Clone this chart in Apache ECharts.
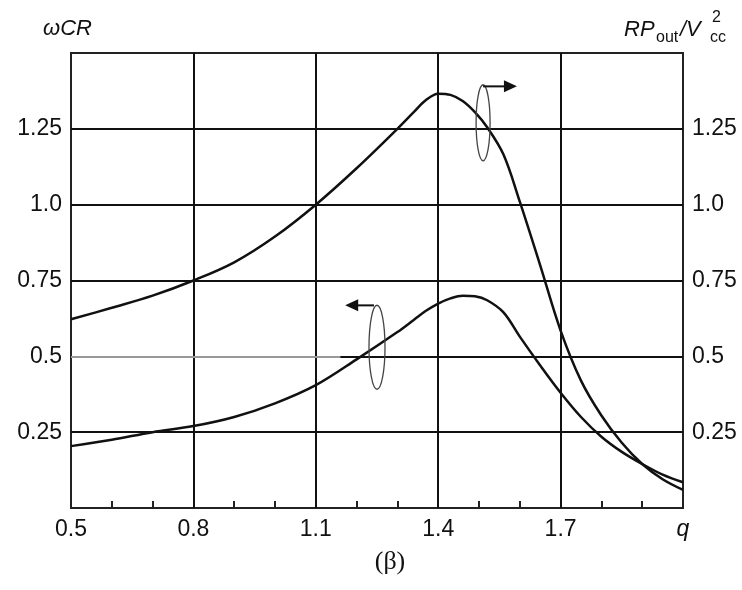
<!DOCTYPE html>
<html><head><meta charset="utf-8">
<script src="https://cdn.jsdelivr.net/npm/echarts@6/dist/echarts.min.js"></script>
<style>html,body{margin:0;padding:0;background:#fff}#c{width:742px;height:590px}</style>
</head><body><div id="c"></div>
<script>
// q values (x axis)
const qValues = [0.5,0.6,0.7,0.8,0.9,1.0,1.1,1.2,1.3,1.34,1.37,1.40,1.43,1.46,1.49,1.52,1.56,1.6,1.65,1.7,1.75,1.8,1.85,1.9,1.95,2.0];
// ωCR (left axis)
const wcrValues = [0.204,0.225,0.25,0.27,0.30,0.345,0.405,0.49,0.58,0.62,0.65,0.674,0.691,0.700,0.698,0.685,0.645,0.565,0.47,0.38,0.30,0.235,0.185,0.145,0.11,0.085];
// RPout/Vcc^2 (right axis)
const rpValues = [0.622,0.66,0.70,0.75,0.81,0.895,1.0,1.12,1.25,1.305,1.345,1.366,1.362,1.342,1.305,1.255,1.165,1.01,0.80,0.585,0.42,0.305,0.215,0.145,0.095,0.06];
// tick labels
const xMajorTicks = [0.8,1.1,1.4,1.7];
const xLabelTicks = ['0.5','0.8','1.1','1.4','1.7'];
const yFullGrid = [0.25,0.75,1.0,1.25];
const yLabelMap = {'0.25':'0.25','0.5':'0.5','0.75':'0.75','1':'1.0','1.25':'1.25'};
// annotation anchors (data coordinates)
const lowerNote = {center:[1.25,0.53], tip:[1.172,0.668]};
const upperNote = {center:[1.51,1.27], tip:[1.593,1.39]};

const chart = echarts.init(document.getElementById('c'), null, {renderer:'canvas'});
const FONT = 'Liberation Sans, Arial, sans-serif';
const lbl = {color:'#111', fontFamily:FONT, fontSize:23};

function yFmt(v){ const k = String(Math.round(v*100)/100); return yLabelMap[k] || ''; }

const lineStyleBlack = {color:'#111', width:2, type:'solid'};
const gridMarks = [];
xMajorTicks.forEach(x => gridMarks.push({xAxis:x, lineStyle:lineStyleBlack}));
yFullGrid.forEach(y => gridMarks.push({yAxis:y, lineStyle:lineStyleBlack}));
gridMarks.push([{coord:[0.5,0.5], lineStyle:{color:'#999', width:2, type:'solid'}},{coord:[1.16,0.5]}]);
gridMarks.push([{coord:[1.16,0.5], lineStyle:lineStyleBlack},{coord:[2.0,0.5]}]);

chart.setOption({
  animation:false,
  backgroundColor:'#fff',
  grid:{left:71, right:59, top:53, bottom:82, show:true, borderColor:'#222', borderWidth:2},
  xAxis:{type:'value', min:0.5, max:2.0, interval:0.1,
    axisLine:{show:true, lineStyle:{color:'#222', width:2}},
    axisTick:{show:true, inside:true, length:7, lineStyle:{color:'#222', width:2}},
    splitLine:{show:false},
    axisLabel:Object.assign({}, lbl, {margin:10, showMinLabel:true, showMaxLabel:true,
      formatter:function(v){ const s=(Math.round(v*10)/10).toFixed(1); if(s==='2.0') return '{q|q}'; return xLabelTicks.indexOf(s)>=0 ? s : ''; },
      rich:{q:{fontStyle:'italic', fontFamily:FONT, fontSize:23, color:'#111'}}})
  },
  yAxis:[
    {type:'value', min:0, max:1.5, interval:0.25, position:'left',
      axisLine:{show:true, lineStyle:{color:'#222', width:2}}, axisTick:{show:false}, splitLine:{show:false},
      axisLabel:Object.assign({}, lbl, {margin:9, formatter:yFmt})},
    {type:'value', min:0, max:1.5, interval:0.25, position:'right',
      axisLine:{show:true, lineStyle:{color:'#222', width:2}}, axisTick:{show:false}, splitLine:{show:false},
      axisLabel:Object.assign({}, lbl, {margin:9, formatter:yFmt})}
  ],
  series:[
    {type:'line', yAxisIndex:0, data:qValues.map((q,i)=>[q,wcrValues[i]]), smooth:0.35, symbol:'none',
      lineStyle:{color:'#111', width:2.5}, z:3,
      markLine:{silent:true, symbol:['none','none'], label:{show:false}, lineStyle:{type:'solid', color:'#111', width:2},
        data:gridMarks, z:1, animation:false}},
    {type:'line', yAxisIndex:1, data:qValues.map((q,i)=>[q,rpValues[i]]), smooth:0.35, symbol:'none',
      lineStyle:{color:'#111', width:2.5}, z:3}
  ]
});

function px(p){ return chart.convertToPixel({gridIndex:0}, p); }
function note(n, rx, ry, dir){
  const c = px(n.center), t = px(n.tip);
  const y = t[1];
  const head = dir<0 ? [[t[0],y],[t[0]+13,y-6],[t[0]+13,y+6]] : [[t[0],y],[t[0]-13,y-6],[t[0]-13,y+6]];
  return [
    {type:'ellipse', shape:{cx:c[0], cy:c[1], rx:rx, ry:ry}, style:{fill:'none', stroke:'#444', lineWidth:1.3}, z:10},
    {type:'line', shape:{x1:c[0]-(dir<0?3:0), y1:y, x2:t[0]-dir*10, y2:y}, style:{stroke:'#111', lineWidth:2}, z:10},
    {type:'polygon', shape:{points:head}, style:{fill:'#111'}, z:10}
  ];
}
const itF = 'italic 22px ' + FONT;
const subF = '16px ' + FONT;
chart.setOption({graphic:[].concat(
  note(lowerNote, 8, 42, -1),
  note(upperNote, 7, 38, 1),
  [
    {type:'text', x:43, y:29, style:{text:'ωCR', font:itF, fill:'#111', textVerticalAlign:'middle'}, z:10},
    {type:'text', x:624, y:30, style:{text:'RP', font:itF, fill:'#111', textVerticalAlign:'middle'}, z:10},
    {type:'text', x:656, y:38, style:{text:'out', font:subF, fill:'#111', textVerticalAlign:'middle'}, z:10},
    {type:'text', x:680, y:30, style:{text:'/V', font:itF, fill:'#111', textVerticalAlign:'middle'}, z:10},
    {type:'text', x:712, y:18, style:{text:'2', font:subF, fill:'#111', textVerticalAlign:'middle'}, z:10},
    {type:'text', x:710, y:38, style:{text:'cc', font:subF, fill:'#111', textVerticalAlign:'middle'}, z:10},
    {type:'text', x:390, y:562, style:{text:'(β)', font:'26px "Liberation Serif", serif', fill:'#111', textAlign:'center', textVerticalAlign:'middle'}, z:10}
  ]
)});
</script></body></html>
